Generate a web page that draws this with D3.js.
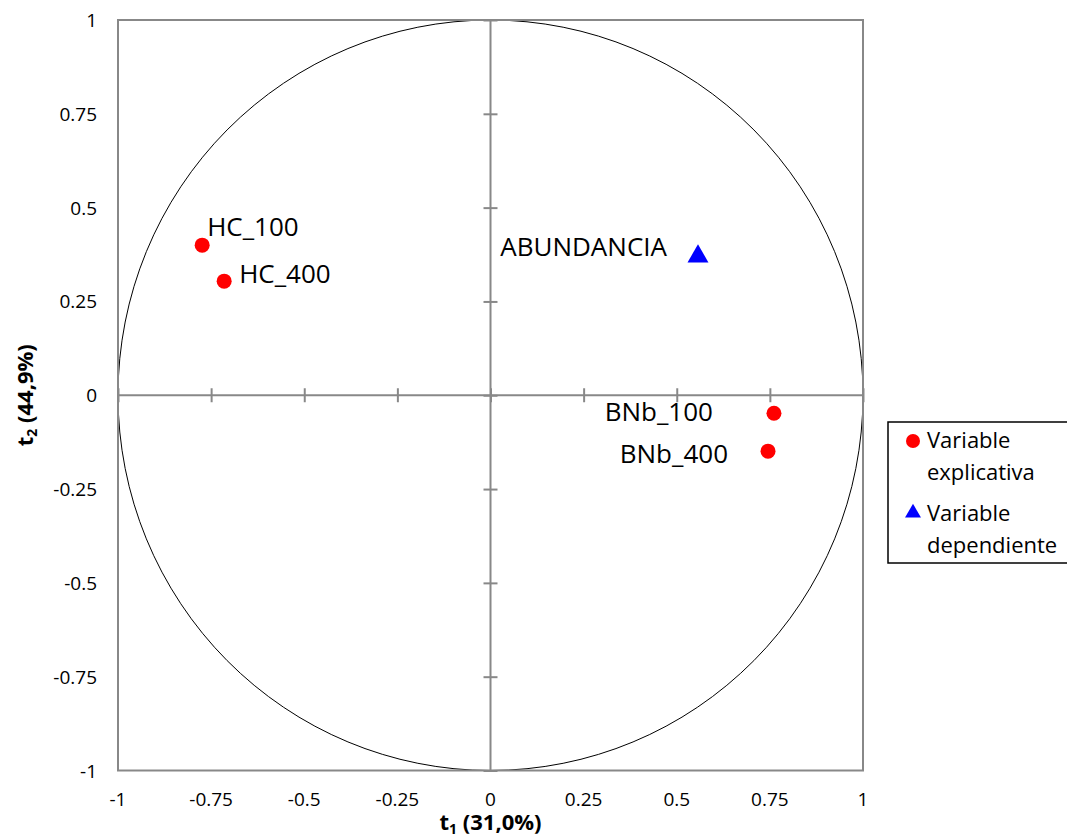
<!DOCTYPE html>
<html>
<head>
<meta charset="utf-8">
<script src="https://cdn.jsdelivr.net/npm/d3@7"></script>
<style>
  body { margin: 0; background: #fff; }
  text { font-family: "Open Sans", "Noto Sans", sans-serif; }
</style>
</head>
<body>
<div id="chart"></div>
<script>
// Correlation circle data
const labels = ['HC_100', 'HC_400', 'ABUNDANCIA', 'BNb_100', 'BNb_400'];
const t1Values = [-0.774, -0.715, 0.557, 0.761, 0.745];
const t2Values = [0.40, 0.304, 0.37, -0.048, -0.149];
const kinds = ['explicativa', 'explicativa', 'dependiente', 'explicativa', 'explicativa'];
const tickValues = [-1, -0.75, -0.5, -0.25, 0, 0.25, 0.5, 0.75, 1];
const legendLabels = [['Variable', 'explicativa'], ['Variable', 'dependiente']];

// label placement (pixels relative to the marker)
const labelOffsets = [[5, -9, 'start'], [15, 2, 'start'], [-31, 0, 'end'], [-61, 8, 'end'], [-40, 12, 'end']];

const width = 1067, height = 838;
const margin = { top: 20, right: 204, bottom: 67.5, left: 118 };

const svg = d3.select('#chart').append('svg')
  .attr('width', width)
  .attr('height', height);

const x = d3.scaleLinear().domain([-1, 1]).range([margin.left, width - margin.right]);
const y = d3.scaleLinear().domain([-1, 1]).range([height - margin.bottom, margin.top]);

// unit circle
svg.append('ellipse')
  .attr('cx', x(0)).attr('cy', y(0))
  .attr('rx', x(1) - x(0)).attr('ry', y(0) - y(1))
  .attr('fill', 'none').attr('stroke', '#000').attr('stroke-width', 1);

// frame
svg.append('rect')
  .attr('x', x(-1)).attr('y', y(1))
  .attr('width', x(1) - x(-1)).attr('height', y(-1) - y(1))
  .attr('fill', 'none').attr('stroke', '#888').attr('stroke-width', 2);

// zero axes with crossing ticks
const xAxis = svg.append('g')
  .attr('transform', `translate(0,${y(0)})`)
  .call(d3.axisBottom(x).tickValues(tickValues).tickSize(14).tickFormat(''));
xAxis.selectAll('.tick line').attr('y1', -7).attr('y2', 7);
xAxis.selectAll('line, path').attr('stroke', '#888').attr('stroke-width', 2);
xAxis.select('.domain').attr('d', `M${x(-1)},0H${x(1)}`);

const yAxis = svg.append('g')
  .attr('transform', `translate(${x(0)},0)`)
  .call(d3.axisLeft(y).tickValues(tickValues).tickSize(14).tickFormat(''));
yAxis.selectAll('.tick line').attr('x1', -7).attr('x2', 7);
yAxis.selectAll('line, path').attr('stroke', '#888').attr('stroke-width', 2);
yAxis.select('.domain').attr('d', `M0,${y(-1)}V${y(1)}`);

// outer tick labels
const fmt = d => String(d);
svg.append('g').selectAll('text')
  .data(tickValues).enter().append('text')
  .attr('x', d => x(d)).attr('y', y(-1) + 35)
  .attr('text-anchor', 'middle')
  .attr('font-size', 19)
  .text(fmt);

svg.append('g').selectAll('text')
  .data(tickValues).enter().append('text')
  .attr('x', margin.left - 21).attr('y', d => y(d) + 7)
  .attr('text-anchor', 'end')
  .attr('font-size', 19)
  .text(fmt);

// axis titles
const xt = svg.append('text')
  .attr('x', x(0)).attr('y', 830)
  .attr('text-anchor', 'middle')
  .attr('font-size', 22).attr('font-weight', 'bold');
xt.append('tspan').text('t');
xt.append('tspan').attr('font-size', 14).attr('dy', 4).text('1');
xt.append('tspan').attr('dy', -4).text(' (31,0%)');

const yt = svg.append('text')
  .attr('transform', `translate(33,${y(0)}) rotate(-90)`)
  .attr('text-anchor', 'middle')
  .attr('font-size', 22).attr('font-weight', 'bold');
yt.append('tspan').text('t');
yt.append('tspan').attr('font-size', 14).attr('dy', 4).text('2');
yt.append('tspan').attr('dy', -4).text(' (44,9%)');

// markers
const points = labels.map((l, i) => ({ label: l, t1: t1Values[i], t2: t2Values[i], kind: kinds[i], off: labelOffsets[i] }));
const tri = d3.symbol().type(d3.symbolTriangle).size(190);

points.forEach(p => {
  if (p.kind === 'dependiente') {
    svg.append('path')
      .attr('d', tri)
      .attr('transform', `translate(${x(p.t1)},${y(p.t2)})`)
      .attr('fill', '#0000ff');
  } else {
    svg.append('circle')
      .attr('cx', x(p.t1)).attr('cy', y(p.t2)).attr('r', 7.5)
      .attr('fill', '#ff0000');
  }
  svg.append('text')
    .attr('x', x(p.t1) + p.off[0]).attr('y', y(p.t2) + p.off[1])
    .attr('text-anchor', p.off[2])
    .attr('font-size', 26)
    .text(p.label);
});

// legend
const lg = svg.append('g').attr('transform', 'translate(888,422)');
lg.append('rect')
  .attr('width', 185).attr('height', 141)
  .attr('fill', '#fff').attr('stroke', '#000').attr('stroke-width', 1.5);
lg.append('circle').attr('cx', 25).attr('cy', 19).attr('r', 7).attr('fill', '#ff0000');
lg.append('path').attr('d', d3.symbol().type(d3.symbolTriangle).size(110))
  .attr('transform', 'translate(25,91)').attr('fill', '#0000ff');
legendLabels.forEach((ls, i) => {
  ls.forEach((t, j) => {
    lg.append('text')
      .attr('x', 39).attr('y', 26 + i * 73 + j * 32)
      .attr('font-size', 22)
      .text(t);
  });
});
</script>
</body>
</html>
